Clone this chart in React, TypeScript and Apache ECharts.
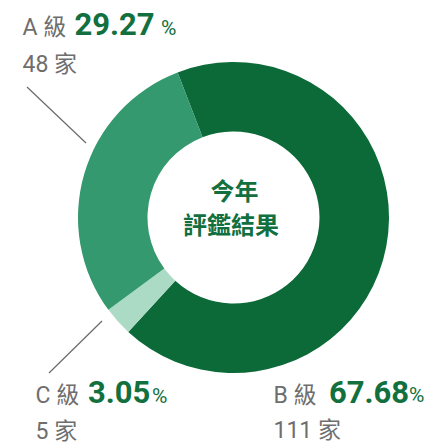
import React, { useEffect, useRef } from "react";
import * as echarts from "echarts";

const grades = ["B", "C", "A"];
const counts = [111, 5, 48];
const sliceColors = ["#0c6a39", "#abdbc5", "#35996f"];
const centerLines = ["今年", "評鑑結果"];
const gradeWord = "級";
const unitWord = "家";

const total = counts.reduce((a, b) => a + b, 0);
const pct = counts.map((c) => ((c / total) * 100).toFixed(2));

const FONT = "Roboto, 'Noto Sans CJK TC', sans-serif";
const GRAY = "#6e6e6e";
const GREEN = "#12703f";

// label layout per grade (positions only)
const labelPos: Record<string, { x: number; y1: number; yNum: number; xNum: number; xPct: number; y2: number }> = {
  A: { x: 22.5, y1: 27.5, yNum: 24, xNum: 74.5, xPct: 161, y2: 64 },
  C: { x: 35.5, y1: 395.5, yNum: 392, xNum: 88, xPct: 152, y2: 431 },
  B: { x: 273.5, y1: 395, yNum: 392, xNum: 329, xPct: 409, y2: 430 },
};

export default function App() {
  const ref = useRef<HTMLDivElement>(null);
  useEffect(() => {
    document.body.style.margin = "0";
    const chart = echarts.init(ref.current!, null, { renderer: "svg" });
    const graphics: any[] = [];
    grades.forEach((g, i) => {
      const p = labelPos[g];
      graphics.push({
        type: "text",
        x: p.x,
        y: p.y1,
        style: { text: `${g} ${gradeWord}`, fill: GRAY, font: `400 23px ${FONT}`, verticalAlign: "middle", align: "left" },
      });
      graphics.push({
        type: "text",
        x: p.xNum,
        y: p.yNum,
        style: { text: pct[i], fill: GREEN, font: `700 31px ${FONT}`, verticalAlign: "middle", align: "left" },
      });
      graphics.push({
        type: "text",
        x: p.xPct,
        y: p.y1,
        style: { text: "%", fill: GREEN, font: `400 21px ${FONT}`, verticalAlign: "middle", align: "left" },
      });
      graphics.push({
        type: "text",
        x: p.x,
        y: p.y2,
        style: { text: `${counts[i]} ${unitWord}`, fill: GRAY, font: `400 23px ${FONT}`, verticalAlign: "middle", align: "left" },
      });
    });
    graphics.push({
      type: "line",
      shape: { x1: 27, y1: 87, x2: 86, y2: 143 },
      style: { stroke: "#6a6a6a", lineWidth: 1.2 },
    });
    graphics.push({
      type: "line",
      shape: { x1: 102, y1: 321, x2: 49, y2: 373 },
      style: { stroke: "#6a6a6a", lineWidth: 1.2 },
    });
    graphics.push({
      type: "text",
      x: 234.5,
      y: 191.5,
      style: { text: centerLines[0], fill: GREEN, font: `700 24px ${FONT}`, verticalAlign: "middle", align: "center" },
    });
    graphics.push({
      type: "text",
      x: 231,
      y: 226,
      style: { text: centerLines[1], fill: GREEN, font: `700 24px ${FONT}`, verticalAlign: "middle", align: "center" },
    });

    chart.setOption({
      animation: false,
      series: [
        {
          type: "pie",
          center: [233.5, 217.5],
          radius: [86, 155.5],
          startAngle: 111.07,
          clockwise: true,
          silent: true,
          label: { show: false },
          labelLine: { show: false },
          itemStyle: { borderWidth: 0 },
          data: grades.map((g, i) => ({ name: g, value: counts[i], itemStyle: { color: sliceColors[i] } })),
        },
      ],
      graphic: graphics,
    });
    return () => chart.dispose();
  }, []);
  return <div ref={ref} style={{ width: 432, height: 443 }} />;
}
